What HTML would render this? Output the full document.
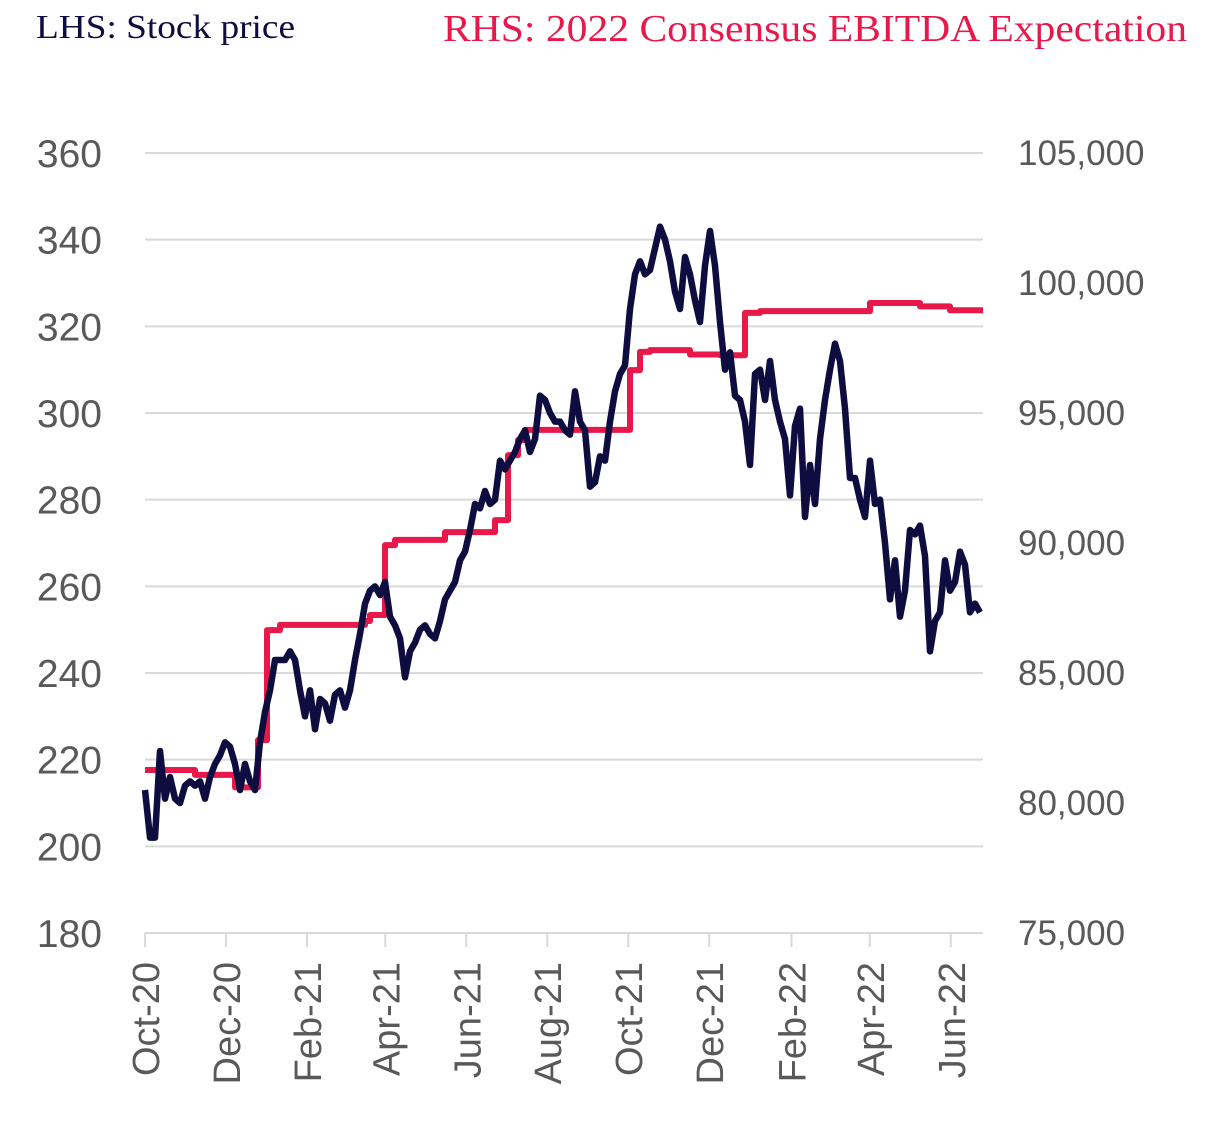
<!DOCTYPE html>
<html><head><meta charset="utf-8"><style>
body{margin:0;background:#fff;width:1215px;height:1123px;overflow:hidden}
svg{display:block}
</style></head><body>
<svg id="chart" width="1215" height="1123">
<text x="36" y="38" textLength="259" lengthAdjust="spacingAndGlyphs" font-family="Liberation Serif, serif" font-size="34" fill="#0d0d40">LHS: Stock price</text>
<text x="443" y="41" textLength="744" lengthAdjust="spacingAndGlyphs" font-family="Liberation Serif, serif" font-size="38" fill="#e8184a">RHS: 2022 Consensus EBITDA Expectation</text>
<g id="grid"></g><g id="axes"></g><g id="series"></g>
</svg>
<script>
const leftTicks=[180,200,220,240,260,280,300,320,340,360];
const rightTicks=[75000,80000,85000,90000,95000,100000,105000];
const monthLabels=["Oct-20","Dec-20","Feb-21","Apr-21","Jun-21","Aug-21","Oct-21","Dec-21","Feb-22","Apr-22","Jun-22"];
const monthTickPos=[0,61,122,181,242,303,364,425,487,546,607]; // days since Oct-1-2020
const priceValues=[213,202,202,222,211,216,211,210,214,215,214,215,211,216,219,221,224,223,219,213,219,215,213,224,231,236,243,243,243,245,243,236,230,236,227,234,233,229,235,236,232,236,243,249,256,259,260,258,261,253,251,248,239,245,247,250,251,249,248,252,257,259,261,266,268,273,279,278,282,279,280,289,287,289,291,294,296,291,294,304,303,300,298,298,296,295,305,298,296,283,284,290,289,298,305,309,311,324,332,335,332,333,338,343,340,335,328,324,336,332,326,321,334,342,334,321,310,314,304,303,298,288,309,310,303,312,303,298,294,281,297,301,276,288,279,294,303,310,316,312,301,285,285,280,276,289,279,280,270,257,266,253,259,273,272,274,267,245,252,254,266,259,261,268,265,254,256,254];
const ebitdaStepIdx=[0,10,18,22.6,24.4,27,44,45,48,50,60,70,72.6,74.6,76,97,99,101,109,115,120,123,145,151,155,161];
const ebitdaEndIdx=167.6;
const ebitdaValues=[81270,81080,80600,82420,86650,86850,87000,87230,89920,90120,90420,90880,93380,93960,94350,96650,97350,97420,97250,97220,98850,98920,99230,99230,99100,98950];
const NS='http://www.w3.org/2000/svg';
const X0=145,X1=980,Y0=933,Y1=153;
const yL=v=>Y0-(v-180)/180*(Y0-Y1);
const yR=v=>Y0-(v-75000)/30000*(Y0-Y1);
const xI=i=>X0+i/(priceValues.length-1)*(X1-X0);
const xD=d=>X0+d*1.3275;
function el(t,a,p){const e=document.createElementNS(NS,t);for(const k in a)e.setAttribute(k,a[k]);p.appendChild(e);return e;}
const grid=document.getElementById('grid'),axes=document.getElementById('axes'),ser=document.getElementById('series');
leftTicks.forEach(v=>{
 if(v>180){const g=el('line',{x1:X0,x2:983,y1:yL(v),y2:yL(v),stroke:'#d9d9d9','stroke-width':2},grid);
 
 }
 const t=el('text',{x:102,y:yL(v)+14,'text-anchor':'end','font-family':'Liberation Sans, sans-serif','font-size':39,fill:'#595959'},axes);
 t.textContent=v;
 
 
});
rightTicks.forEach(v=>{
 const t=el('text',{x:1018,y:yR(v)+12,'font-family':'Liberation Sans, sans-serif','font-size':35,fill:'#595959'},axes);
 t.textContent=v.toLocaleString('en-US');
 
 
});
const ax=el('line',{x1:X0,x2:983,y1:Y0,y2:Y0,stroke:'#d9d9d9','stroke-width':2},axes);


monthLabels.forEach((m,i)=>{
 const x=xD(monthTickPos[i]);
 el('line',{x1:x,x2:x,y1:Y0,y2:Y0+14,stroke:'#d9d9d9','stroke-width':2},axes);
 const t=el('text',{x:0,y:0,'text-anchor':'end','font-family':'Liberation Sans, sans-serif','font-size':38,fill:'#595959',transform:`translate(${x+14},962) rotate(-90)`},axes);
 t.textContent=m;
 
 
});
let d='';
ebitdaValues.forEach((v,i)=>{
 const xa=xI(ebitdaStepIdx[i]),xb=xI(i+1<ebitdaStepIdx.length?ebitdaStepIdx[i+1]:ebitdaEndIdx);
 d+=(i?'L':'M')+xa+' '+yR(v)+'L'+xb+' '+yR(v);
});
const eb=el('path',{d:d,fill:'none',stroke:'#e8184a','stroke-width':6,'stroke-linejoin':'round'},ser);


const pp=el('path',{d:priceValues.map((v,i)=>(i?'L':'M')+xI(i)+' '+yL(v)).join(''),fill:'none',stroke:'#0d0d40','stroke-width':6.5,'stroke-linejoin':'round'},ser);


</script>
</body></html>
